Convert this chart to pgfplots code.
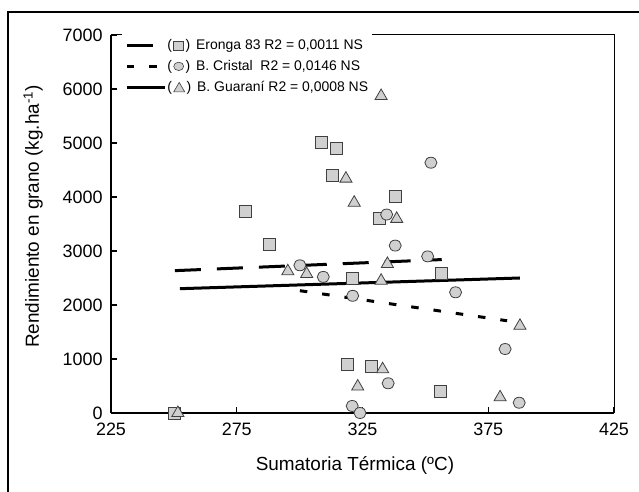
\documentclass[border=0pt]{standalone}
\usepackage{fontspec}
\setmainfont{Liberation Sans}
\usepackage{pgfplots}
\pgfplotsset{compat=1.18}
\definecolor{mfill}{HTML}{D0D0D0}
\definecolor{medge}{HTML}{404040}
\newcommand{\lsq}{\tikz[baseline=-0.5ex]\draw[draw=medge,fill=mfill,line width=0.6bp] (-5bp,-4.5bp) rectangle (5bp,4.5bp);}
\newcommand{\lci}{\tikz[baseline=-0.5ex]\draw[draw=medge,fill=mfill,line width=0.6bp] (0,0) ellipse [x radius=5bp, y radius=4.2bp];}
\newcommand{\ltr}{\tikz[baseline=-0.5ex]\draw[draw=medge,fill=mfill,line width=0.6bp] (-5.5bp,-4.5bp) -- (5.5bp,-4.5bp) -- (0bp,5bp) -- cycle;}
\newcommand{\sym}[1]{(\hspace{1.5bp}#1\hspace{1.5bp})\hspace{6bp}}
\begin{document}
\begin{tikzpicture}[x=1bp,y=1bp]
\path[use as bounding box] (0,0) rectangle (639,492);
\draw[line width=1.2bp] (8,0) -- (8,480) -- (639,480);
\begin{axis}[
 at={(111bp,79bp)}, anchor=south west,
 scale only axis, width=503bp, height=378bp,
 xmin=225, xmax=425, ymin=0, ymax=7000,
 xtick={225,275,...,425}, ytick={0,1000,...,7000},
 axis lines*=left,
 axis line style={line width=1.6bp},
 tick style={black, line width=1.2bp},
 major tick length=6bp,
 tick align=inside,
 /pgf/number format/assume math mode=true,
 /pgf/number format/1000 sep={},
 tick label style={font=\fontsize{18}{20}\selectfont},
 xticklabel style={yshift=-6bp},
 yticklabel style={xshift=-5bp},
 xlabel={Sumatoria Térmica (ºC)},
 ylabel={Rendimiento en grano (kg.ha\textsuperscript{-1})},
 label style={font=\fontsize{19}{21}\selectfont},
 xlabel style={at={(axis description cs:0.485,-0.14)}, anchor=center},
 ylabel style={at={(axis description cs:-0.155,0.52)}, anchor=center},
 clip=false,
 legend cell align=left,
 legend image code/.code={\draw[#1] (0bp,0bp) -- (38bp,0bp);},
 legend style={at={(axis description cs:0.022,1.003)}, anchor=north west, draw=none, fill=white,
   font=\fontsize{14}{16}\selectfont, inner xsep=3bp, inner ysep=4bp, row sep=6bp,
   nodes={font=\fontsize{14}{16}\selectfont, inner sep=1bp, text height=10bp, text depth=3bp},
   /tikz/every even column/.append style={column sep=5bp}},
]
\draw[line width=1bp] (rel axis cs:0,1) -- (rel axis cs:1,1) -- (rel axis cs:1,0);
% Eronga 83 (squares)
\addplot[only marks, mark=square*, mark size=6bp, mark options={fill=mfill, draw=medge, line width=0.8bp}, forget plot] coordinates {
(250.4,0) (278.6,3725) (288.1,3120) (308.8,5005) (314.7,4895) (312.9,4400)
(331.6,3600) (337.9,4010) (321.1,2500) (356.5,2580) (318.9,905) (328.4,860) (356.1,395)};
% B. Cristal (circles)
\addplot[only marks, mark=*, mark size=5.5bp, mark options={xscale=1.1, fill=mfill, draw=medge, line width=0.8bp}, forget plot] coordinates {
(300.1,2735) (309.4,2520) (334.6,3675) (338.0,3100) (321.1,2170) (350.9,2900)
(352.2,4635) (362.0,2235) (381.7,1185) (335.2,550) (320.9,130) (324.0,0) (387.3,190)};
% B. Guarani (triangles)
\addplot[only marks, mark=triangle*, mark size=7bp, mark options={fill=mfill, draw=medge, line width=0.8bp}, forget plot] coordinates {
(251.6,0) (295.3,2625) (302.8,2575) (318.4,4340) (321.7,3895) (332.4,5870)
(338.6,3595) (334.9,2760) (332.4,2450) (387.6,1615) (333.0,810) (323.1,490) (379.7,290)};
% regression lines
\addplot[black, line width=3bp, dash pattern=on 26bp off 16bp] coordinates {(250.4,2636) (356.5,2841)};
\addlegendentry{\sym{\lsq}Eronga 83 R2 = 0,0011 NS}
\addplot[black, line width=3bp, dash pattern=on 7.5bp off 15bp] coordinates {(300.1,2265) (382.5,1708)};
\addlegendentry{\sym{\lci}B. Cristal\ \ R2 = 0,0146 NS}
\addplot[black, line width=3bp] coordinates {(252.4,2302) (387.6,2500)};
\addlegendentry{\sym{\ltr}B. Guaraní R2 = 0,0008 NS}
\end{axis}
\end{tikzpicture}
\end{document}
